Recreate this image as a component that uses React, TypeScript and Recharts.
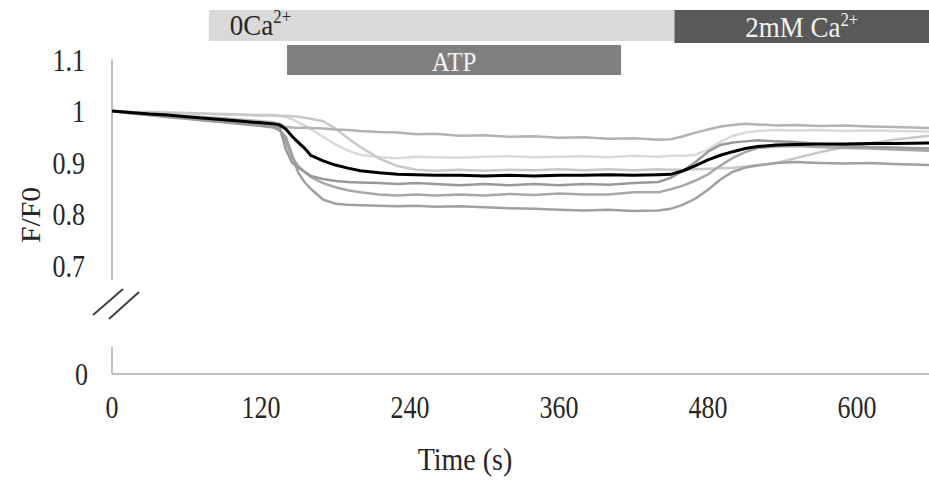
import React from 'react';
import { LineChart, Line, XAxis, YAxis, ReferenceArea, ReferenceLine } from 'recharts';

// ---- data ----
const timeSec = [0, 15, 30, 45, 60, 75, 90, 105, 120, 130, 135, 140, 145, 150, 155, 160, 170, 180, 190, 200, 215, 230, 245, 260, 280, 300, 320, 340, 360, 380, 400, 420, 440, 450, 460, 470, 480, 490, 500, 510, 520, 535, 550, 570, 590, 610, 630, 658];

const meanTrace = [1.000, 0.997, 0.994, 0.992, 0.989, 0.986, 0.983, 0.980, 0.977, 0.975,
  0.973, 0.965, 0.951, 0.939, 0.928, 0.914, 0.903, 0.895, 0.889, 0.884,
  0.880, 0.877, 0.876, 0.875, 0.875, 0.874, 0.875, 0.874, 0.875, 0.875,
  0.876, 0.875, 0.876, 0.877, 0.884, 0.894, 0.905, 0.914, 0.921, 0.927,
  0.931, 0.934, 0.935, 0.936, 0.936, 0.937, 0.937, 0.938];

const cell1 = [1.000, 0.997, 0.995, 0.993, 0.990, 0.988, 0.986, 0.983, 0.980, 0.978,
  0.975, 0.969, 0.968, 0.967, 0.968, 0.967, 0.966, 0.964, 0.963, 0.961,
  0.959, 0.958, 0.955, 0.956, 0.952, 0.953, 0.950, 0.951, 0.948, 0.949,
  0.946, 0.947, 0.944, 0.945, 0.951, 0.958, 0.964, 0.970, 0.973, 0.975,
  0.974, 0.972, 0.973, 0.971, 0.972, 0.970, 0.969, 0.967];

const cell2 = [1.000, 0.998, 0.997, 0.996, 0.995, 0.994, 0.993, 0.992, 0.991, 0.991,
  0.990, 0.988, 0.984, 0.978, 0.972, 0.965, 0.950, 0.935, 0.923, 0.915,
  0.910, 0.908, 0.911, 0.910, 0.909, 0.911, 0.912, 0.910, 0.911, 0.912,
  0.910, 0.913, 0.911, 0.913, 0.913, 0.915, 0.925, 0.940, 0.952, 0.958,
  0.961, 0.963, 0.962, 0.963, 0.961, 0.962, 0.961, 0.960];

const cell3 = [1.000, 0.998, 0.998, 0.997, 0.996, 0.995, 0.994, 0.993, 0.992, 0.992,
  0.991, 0.991, 0.990, 0.989, 0.987, 0.985, 0.980, 0.966, 0.947, 0.930,
  0.908, 0.893, 0.886, 0.884, 0.886, 0.884, 0.886, 0.885, 0.887, 0.885,
  0.887, 0.885, 0.887, 0.886, 0.886, 0.887, 0.888, 0.889, 0.890, 0.892,
  0.895, 0.899, 0.908, 0.920, 0.930, 0.937, 0.944, 0.952];

const cell4 = [1.000, 0.996, 0.993, 0.990, 0.987, 0.983, 0.980, 0.976, 0.973, 0.970,
  0.968, 0.925, 0.900, 0.890, 0.882, 0.874, 0.868, 0.864, 0.862, 0.861,
  0.860, 0.858, 0.860, 0.858, 0.856, 0.858, 0.856, 0.858, 0.856, 0.858,
  0.857, 0.860, 0.862, 0.870, 0.884, 0.901, 0.921, 0.934, 0.939, 0.941,
  0.943, 0.941, 0.940, 0.936, 0.932, 0.930, 0.929, 0.927];

const cell5 = [1.000, 0.996, 0.992, 0.989, 0.986, 0.982, 0.979, 0.975, 0.972, 0.969,
  0.966, 0.940, 0.910, 0.893, 0.882, 0.872, 0.860, 0.852, 0.846, 0.842,
  0.838, 0.836, 0.838, 0.836, 0.838, 0.836, 0.839, 0.837, 0.840, 0.838,
  0.838, 0.842, 0.842, 0.848, 0.855, 0.865, 0.877, 0.894, 0.909, 0.920,
  0.928, 0.931, 0.932, 0.930, 0.928, 0.927, 0.925, 0.923];

const cell6 = [1.000, 0.995, 0.992, 0.988, 0.985, 0.981, 0.978, 0.974, 0.971, 0.968,
  0.962, 0.950, 0.915, 0.880, 0.862, 0.849, 0.828, 0.820, 0.818, 0.817,
  0.816, 0.815, 0.816, 0.814, 0.815, 0.813, 0.811, 0.810, 0.808, 0.807,
  0.808, 0.806, 0.807, 0.810, 0.818, 0.830, 0.847, 0.867, 0.882, 0.890,
  0.894, 0.899, 0.901, 0.899, 0.898, 0.899, 0.897, 0.895];

const xTicks = [0, 120, 240, 360, 480, 600];
const yTicksUpper = [0.7, 0.8, 0.9, 1, 1.1];
const yTicksLower = [0];
const xDomain = [0, 658];
const yDomainUpper = [0.6718, 1.2];
const yDomainLower = [0, 0.05];

// treatment windows (s) and their band in F/F0 units above the traces
const zeroCaWindow = [78, 453];
const atpWindow = [141, 410];
const caWindow = [453, 658];
const zeroCaBand = [1.136, 1.196];
const atpBand = [1.07, 1.128];
const caBand = [1.132, 1.196];

const data = timeSec.map((t, i) => ({
  t,
  mean: meanTrace[i],
  c1: cell1[i],
  c2: cell2[i],
  c3: cell3[i],
  c4: cell4[i],
  c5: cell5[i],
  c6: cell6[i],
}));

const greySeries = [
  { key: 'c2', color: '#d9d9d9' },
  { key: 'c3', color: '#c8c8c8' },
  { key: 'c1', color: '#b3b3b3' },
  { key: 'c5', color: '#a8a8a8' },
  { key: 'c6', color: '#a0a0a0' },
  { key: 'c4', color: '#999999' },
];

const FONT = '"Liberation Serif", "Times New Roman", serif';
const TEXT = '#262626';

const BarLabel = (props: any) => {
  const { viewBox, text, sup, align, fill, size, base } = props;
  if (!viewBox) return null;
  const x = align === 'start' ? viewBox.x + 21 : viewBox.x + viewBox.width / 2;
  const y = viewBox.y + viewBox.height / 2 + base;
  return (
    <g transform={`translate(${x},${y})`}>
      <text x={0} y={0} transform="scale(1,1.12)" fill={fill} fontSize={size} fontFamily={FONT} textAnchor={align}>
        <tspan>{text}</tspan>
        {sup ? (
          <tspan fontSize={size * 0.62} dy={-size * 0.38}>{sup}</tspan>
        ) : null}
      </text>
    </g>
  );
};

const YTick = (props: any) => {
  const { x, y, payload } = props;
  return (
    <g transform={`translate(${x},${y})`}>
      <text x={0} y={0} dy="0.355em" transform="scale(1,1.2)" textAnchor="end" fill={TEXT} fontSize={26} fontFamily={FONT}>
        {payload.value}
      </text>
    </g>
  );
};

const XTick = (props: any) => {
  const { x, y, payload } = props;
  return (
    <g transform={`translate(${x},${y})`}>
      <text x={0} y={0} dy="0.71em" transform="scale(1,1.2)" textAnchor="middle" fill={TEXT} fontSize={26} fontFamily={FONT}>
        {payload.value}
      </text>
    </g>
  );
};

const YTitle = (props: any) => {
  const { viewBox } = props;
  if (!viewBox) return null;
  const cx = viewBox.x + 40;
  const cy = viewBox.y + 207;
  return (
    <g transform={`translate(${cx},${cy}) rotate(-90)`}>
      <text x={0} y={0} transform="scale(1.06,1)" textAnchor="middle" fill={TEXT} fontSize={28} fontFamily={FONT}>
        F/F0
      </text>
    </g>
  );
};

const XTitle = (props: any) => {
  const { viewBox } = props;
  if (!viewBox) return null;
  const cx = viewBox.x + 353;
  const cy = viewBox.y + 96;
  return (
    <g transform={`translate(${cx},${cy})`}>
      <text x={0} y={0} transform="scale(1,1.1)" textAnchor="middle" fill={TEXT} fontSize={28} fontFamily={FONT}>
        Time (s)
      </text>
    </g>
  );
};

export default function App() {
  return (
    <div style={{ position: 'absolute', left: 0, top: 0, width: 929, height: 483, background: '#fff', fontFamily: FONT }}>
      <div style={{ position: 'absolute', left: 0, top: 0 }}>
        <LineChart width={929} height={300} data={data} margin={{ top: 8, right: 0, bottom: 20, left: 0 }}>
          <XAxis dataKey="t" type="number" domain={xDomain} ticks={xTicks} hide allowDataOverflow />
          <YAxis
            type="number"
            domain={yDomainUpper}
            ticks={yTicksUpper}
            interval={0}
            width={112}
            axisLine={false}
            tickLine={false}
            tickSize={0}
            tickMargin={27}
            tick={<YTick />}
            allowDataOverflow
            label={<YTitle />}
          />
          <ReferenceLine
            segment={[{ x: 0, y: yDomainUpper[0] }, { x: 0, y: 1.1 }]}
            stroke="#bfbfbf"
            strokeWidth={2}
          />
          <ReferenceArea
            x1={zeroCaWindow[0]} x2={zeroCaWindow[1]} y1={zeroCaBand[0]} y2={zeroCaBand[1]}
            fill="#d9d9d9" fillOpacity={1} stroke="none"
            label={<BarLabel text="0Ca" sup="2+" align="start" fill={TEXT} size={27} base={9} />}
          />
          <ReferenceArea
            x1={caWindow[0]} x2={caWindow[1]} y1={caBand[0]} y2={caBand[1]}
            fill="#595959" fillOpacity={1} stroke="none"
            label={<BarLabel text="2mM Ca" sup="2+" align="middle" fill="#f2f2f2" size={27} base={10.5} />}
          />
          <ReferenceArea
            x1={atpWindow[0]} x2={atpWindow[1]} y1={atpBand[0]} y2={atpBand[1]}
            fill="#808080" fillOpacity={1} stroke="none"
            label={<BarLabel text="ATP" align="middle" fill="#f2f2f2" size={25} base={10.5} />}
          />
          {greySeries.map((s) => (
            <Line key={s.key} dataKey={s.key} type="linear" stroke={s.color} strokeWidth={2.5} dot={false} activeDot={false} isAnimationActive={false} />
          ))}
          <Line dataKey="mean" type="linear" stroke="#000000" strokeWidth={3} dot={false} activeDot={false} isAnimationActive={false} />
        </LineChart>
      </div>
      <div style={{ position: 'absolute', left: 0, top: 280 }}>
        <LineChart width={929} height={203} data={data} margin={{ top: 67, right: 0, bottom: 0, left: 0 }}>
          <XAxis
            dataKey="t"
            type="number"
            domain={xDomain}
            ticks={xTicks}
            interval={0}
            height={109}
            axisLine={{ stroke: '#bfbfbf', strokeWidth: 2 }}
            tickLine={false}
            tickSize={0}
            tickMargin={22}
            tick={<XTick />}
            allowDataOverflow
            label={<XTitle />}
          />
          <YAxis
            type="number"
            domain={yDomainLower}
            ticks={yTicksLower}
            interval={0}
            width={112}
            axisLine={{ stroke: '#bfbfbf', strokeWidth: 2 }}
            tickLine={false}
            tickSize={0}
            tickMargin={24}
            tick={<YTick />}
            allowDataOverflow
          />
        </LineChart>
      </div>
      <svg width={160} height={60} style={{ position: 'absolute', left: 0, top: 280 }}>
        <line x1={93} y1={35} x2={123} y2={9} stroke="#404040" strokeWidth={2} />
        <line x1={109} y1={39} x2={139} y2={12} stroke="#404040" strokeWidth={2} />
      </svg>
    </div>
  );
}
